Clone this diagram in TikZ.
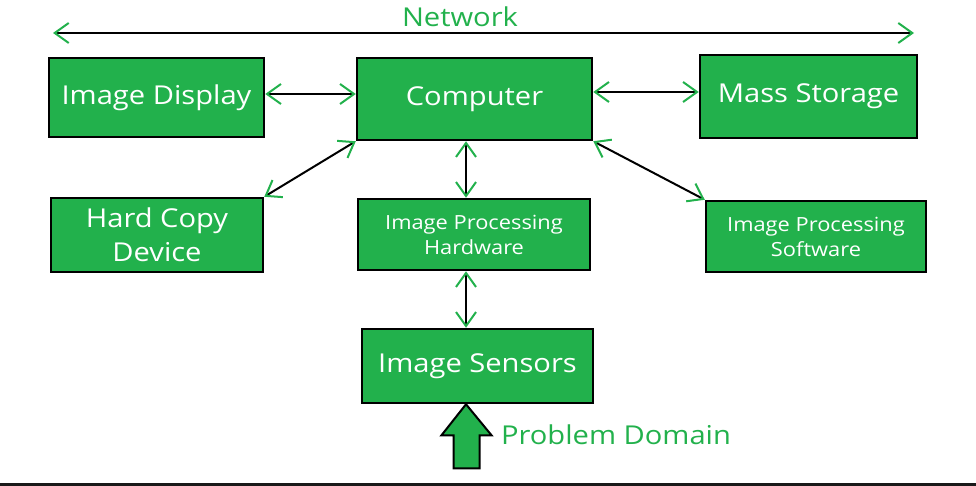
\documentclass[tikz,border=0pt]{standalone}
\usepackage{fontspec}
\setmainfont{Open Sans}[FakeStretch=1.12]
\usetikzlibrary{arrows.meta}
\definecolor{pgreen}{RGB}{34,177,76}

\begin{document}
\begin{tikzpicture}[x=1pt,y=-1pt,
	box/.style={draw=black, line width=2.5pt, fill=pgreen, text=white, inner sep=0pt, align=center},
	big/.style={font=\fontsize{26}{34}\selectfont},
	small/.style={font=\fontsize{19.5}{25}\selectfont},
	barb/.tip={Straight Barb[color=pgreen,length=14pt,width=20pt,line width=2pt]},
	link/.style={line width=2pt, barb-barb}]

	\useasboundingbox (0,0) rectangle (976,486);

	% boxes
	\node (disp) at (156.5,97.5) [box,big,minimum width=215pt,minimum height=79pt]{Image Display};
	\node (comp) at (474.5,99) [box,big,minimum width=235pt,minimum height=82pt]{Computer};
	\node (mass) at (808.5,96.5) [box,big,minimum width=217pt,minimum height=83pt]{Mass Storage};
	\node (hcd) at (157,235) [box,big,minimum width=212pt,minimum height=74pt]{Hard Copy\\Device};
	\node (iph) at (474,234.5) [box,small,minimum width=232pt,minimum height=71pt]{Image Processing\\Hardware};
	\node (ips) at (816,236.5) [box,small,minimum width=220pt,minimum height=71pt]{Image Processing\\Software};
	\node (sens) at (477.5,366) [box,big,minimum width=231pt,minimum height=74pt]{Image Sensors};

	% network
	\coordinate (netl) at (53,33);
	\coordinate (netr) at (914,33);
	\draw [link] (netl) -- (netr);
	\node (net) at (460,17) [text=pgreen,font=\fontsize{26}{30}\selectfont]{Network};

	% links
	\draw [link] ([yshift=3.5pt]disp.east) -- ([yshift=5pt]comp.west);
	\draw [link] ([yshift=7pt]comp.east) -- ([yshift=4.5pt]mass.west);
	\draw [link] (comp.south west) -- (hcd.north east);
	\draw [link] (comp.south east) -- (ips.north west);
	\draw [link] ([xshift=-8.5pt]comp.south) -- ([xshift=-8pt]iph.north);
	\draw [link] ([xshift=-8pt]iph.south) -- ([xshift=-11.5pt]sens.south |- sens.north);

	% problem domain
	\draw [line width=2pt, fill=pgreen, line join=miter] ([xshift=-11.5pt]sens.south)
		-- ++(-24.5,31) -- ++(12,0) -- ++(0,33) -- ++(26,0) -- ++(0,-33) -- ++(12,0) -- cycle;
	\node (dom) at (616,435) [text=pgreen,font=\fontsize{26}{30}\selectfont]{Problem Domain};

	% bottom rule
	\draw [line width=3pt, black!90] (0,484.5) -- (976,484.5);
\end{tikzpicture}
\end{document}
